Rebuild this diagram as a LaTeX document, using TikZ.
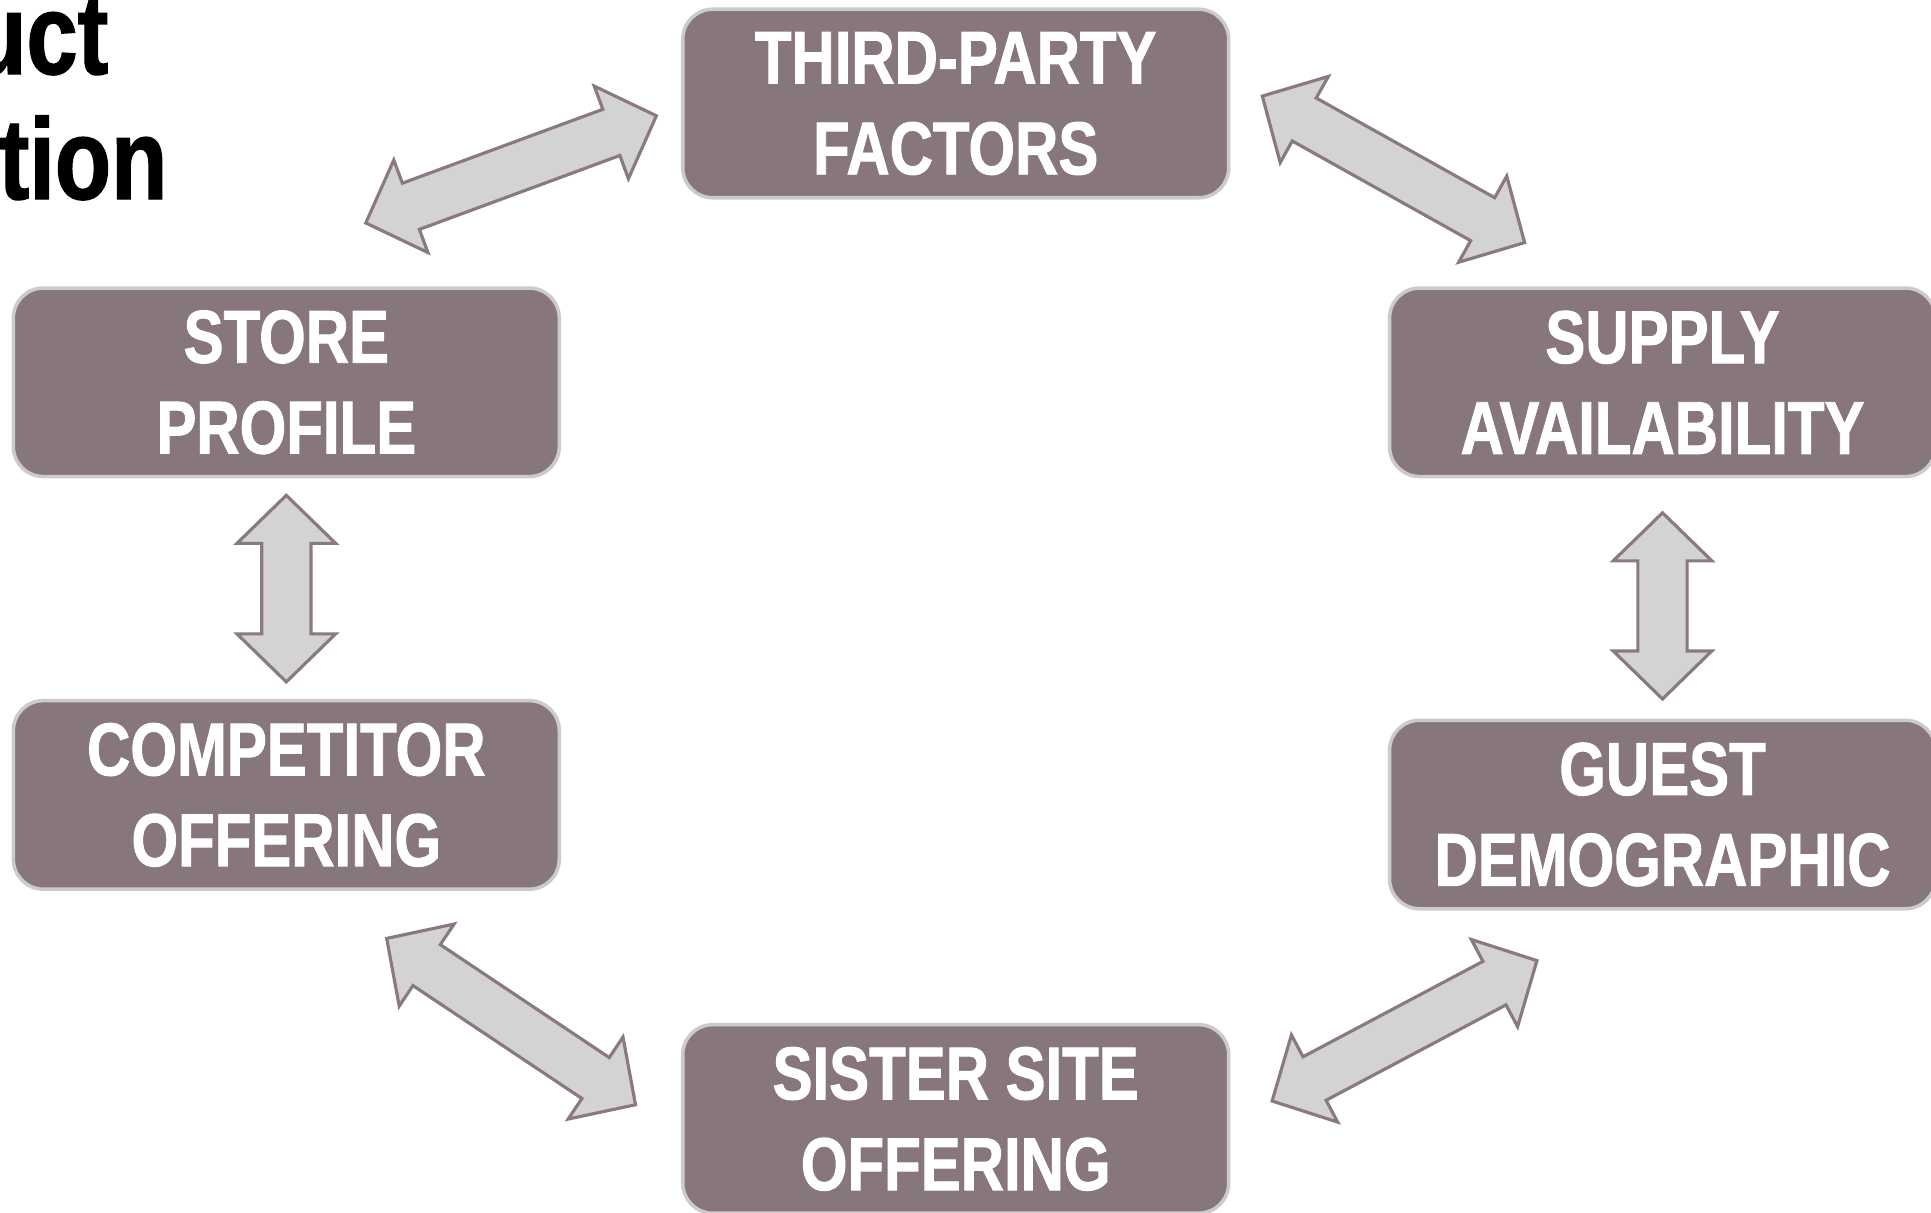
\documentclass[tikz,border=0pt]{standalone}
\usepackage{fontspec}
\setmainfont{Liberation Sans}
\newfontfamily\boxfont{Liberation Sans}[FakeStretch=0.8, FakeBold=1.2]
\usepackage{xcolor}
\usepackage{tikz}
\usetikzlibrary{positioning,calc}
\definecolor{boxfill}{HTML}{87767A}
\definecolor{boxline}{HTML}{CBCBCB}
\definecolor{arrfill}{HTML}{D3D3D3}
\definecolor{arrline}{HTML}{8A7A7E}
\newcommand{\arrhl}{0.48cm}
\newcommand{\arrhw}{0.493cm}
\newcommand{\arrsw}{0.246cm}
% two-headed block arrow from tip #1 to tip #2
\newcommand{\dblarrow}[2]{%
  \coordinate (p) at ($(#1)!\arrhl!(#2)$);
  \coordinate (q) at ($(#2)!\arrhl!(#1)$);
  \draw[blockarrow] (#1) -- ($(p)!\arrhw!90:(#2)$) -- ($(p)!\arrsw!90:(#2)$)
    -- ($(q)!\arrsw!-90:(#1)$) -- ($(q)!\arrhw!-90:(#1)$) -- (#2)
    -- ($(q)!\arrhw!90:(#1)$) -- ($(q)!\arrsw!90:(#1)$)
    -- ($(p)!\arrsw!-90:(#2)$) -- ($(p)!\arrhw!-90:(#2)$) -- cycle;}
\tikzset{
  factorbox/.style={rectangle, rounded corners=0.3cm, draw=boxline, line width=1pt,
                    fill=boxfill, text=white, minimum width=5.456cm, minimum height=1.884cm,
                    inner sep=0pt, align=center,
                    font=\boxfont\bfseries\fontsize{21.3}{25.8}\selectfont,
                    execute at begin node=\rule{0pt}{18pt}},
  blockarrow/.style={draw=arrline, fill=arrfill, line width=0.9pt},
  titletext/.style={inner sep=0pt, anchor=base east,
                    font=\boxfont\bfseries\fontsize{32.7}{34}\selectfont},
}

\begin{document}
\begin{tikzpicture}[x=0.01cm, y=-0.01cm]
  \useasboundingbox (0,0) rectangle (1931,1212);
  \fill[white] (0,0) rectangle (1931,1212);

  \node[titletext] (title1) at (109,74) {uct};
  \node[titletext] (title2) at (168,199) {tion};

  \node[factorbox] (third) at (955.7,103.5) {THIRD-PARTY\\FACTORS};
  \node[factorbox] (store) at (286.3,382.3) {STORE\\PROFILE};
  \node[factorbox] (supply) at (1662.5,382.3) {SUPPLY\\AVAILABILITY};
  \node[factorbox] (competitor) at (286.3,794.9) {COMPETITOR\\OFFERING};
  \node[factorbox] (guest) at (1662.5,814.5) {GUEST\\DEMOGRAPHIC};
  \node[factorbox] (sister) at (955.7,1118.9) {SISTER SITE\\OFFERING};

  % arrow tips
  \coordinate (a1s) at (365.8,222.9);
  \coordinate (a1e) at (656.4,115.8);
  \coordinate (a2s) at (1262.3,96.1);
  \coordinate (a2e) at (1524.6,242.6);
  \coordinate (a3s) at ($(store.south)+(0,17)$);
  \coordinate (a3e) at ($(competitor.north)+(0,-17)$);
  \coordinate (a4s) at ($(supply.south)+(0,34.5)$);
  \coordinate (a4e) at ($(guest.north)+(0,-19.5)$);
  \coordinate (a5s) at (386.7,938.4);
  \coordinate (a5e) at (635.5,1104.7);
  \coordinate (a6s) at (1536.9,960.6);
  \coordinate (a6e) at (1272.1,1101);

  \dblarrow{a1s}{a1e}
  \dblarrow{a2s}{a2e}
  \dblarrow{a3s}{a3e}
  \dblarrow{a4s}{a4e}
  \dblarrow{a5s}{a5e}
  \dblarrow{a6s}{a6e}
\end{tikzpicture}
\end{document}
